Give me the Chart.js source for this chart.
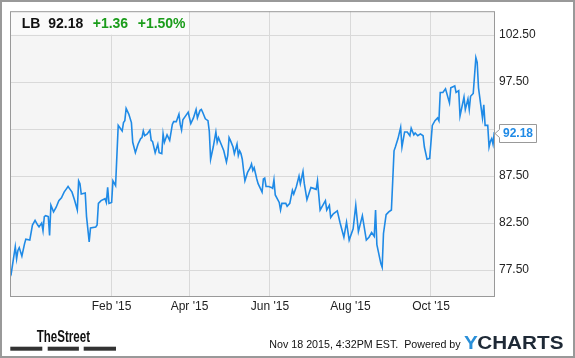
<!DOCTYPE html>
<html>
<head>
<meta charset="utf-8">
<script src="https://cdn.jsdelivr.net/npm/chart.js@4.4.0/dist/chart.umd.min.js"></script>
<style>
  html, body { margin: 0; padding: 0; background: #fff; }
  #wrap { width: 575px; height: 358px; }
</style>
</head>
<body>
<div id="wrap"><canvas id="canvas" width="575" height="358"></canvas></div>
<script>
// day index counted from Jan 1 2015 (negative = late 2014)
const days = [
  -46, -45, -42, -41, -40, -39, -37, -35, -34, -31,
  -29, -27, -25, -24, -22, -21, -20, -19, -17, -16,
  -15, -13, -11, -9, -7, -5, -3, -2, -1, 1,
  3, 5, 6, 7, 8, 11, 12, 14, 15, 19,
  20, 21, 23, 26, 27, 28, 29, 31, 32, 34,
  36, 37, 39, 40, 41, 42, 44, 46, 47, 49,
  51, 53, 54, 55, 56, 58, 60, 61, 62, 64,
  66, 67, 69, 70, 71, 73, 75, 77, 78, 80,
  82, 83, 84, 85, 88, 89, 91, 93, 95, 96,
  98, 99, 100, 102, 104, 105, 106, 108, 110, 111,
  112, 114, 116, 118, 119, 120, 121, 123, 124, 126,
  127, 128, 129, 130, 131, 132, 134, 136, 137, 138,
  139, 141, 142, 145, 146, 147, 148, 150, 152, 153,
  154, 155, 158, 159, 160, 163, 164, 166, 168, 169,
  171, 173, 174, 176, 177, 179, 182, 184, 186, 187,
  189, 191, 193, 194, 196, 197, 199, 202, 204, 207,
  209, 211, 214, 216, 218, 221, 224, 226, 228, 230,
  231, 232, 235, 236, 237, 239, 241, 243, 244, 245,
  246, 248, 250, 251, 253, 255, 257, 258, 260, 261,
  263, 265, 267, 268, 270, 272, 274, 276, 278, 279,
  280, 282, 284, 287, 288, 291, 292, 294, 295, 298,
  299, 301, 302, 303, 305, 307, 308, 309, 312, 313,
  314, 316, 317, 318, 319, 320, 321
];

const prices = [
  77.7, 77.2, 80.0, 78.7, 79.6, 79.9, 79.0, 80.3, 80.8, 80.7,
  82.3, 82.8, 82.3, 82.1, 82.5, 81.7, 83.2, 83.3, 83.2, 81.2,
  84.4, 83.7, 84.2, 84.9, 85.2, 85.8, 86.2, 86.4, 86.2, 85.8,
  84.9, 83.9, 87.0, 86.7, 85.6, 85.7, 83.2, 80.5, 82.0, 82.1,
  82.3, 84.6, 84.9, 85.1, 84.7, 86.3, 84.6, 84.7, 87.0, 86.5,
  92.9, 92.7, 92.3, 93.2, 93.4, 94.7, 94.1, 93.2, 91.1, 90.0,
  90.9, 91.5, 91.6, 92.3, 91.8, 92.0, 92.4, 91.3, 91.2, 90.0,
  90.9, 90.0, 89.9, 92.0, 91.1, 91.9, 91.3, 93.0, 93.3, 93.3,
  94.1, 93.0, 92.4, 93.5, 94.1, 94.3, 93.1, 93.7, 94.6, 93.7,
  94.5, 94.6, 94.3, 93.6, 93.4, 92.3, 89.3, 90.6, 92.2, 91.1,
  91.6, 90.9, 90.2, 89.0, 89.7, 91.6, 91.3, 90.6, 89.9, 90.9,
  89.7, 90.2, 89.9, 89.3, 88.1, 87.0, 87.9, 88.4, 88.8, 88.1,
  88.4, 87.2, 86.7, 85.8, 87.2, 87.3, 86.4, 86.4, 86.3, 86.2,
  87.1, 85.5, 84.7, 83.9, 84.6, 84.6, 84.3, 84.6, 86.0, 85.6,
  86.4, 87.5, 86.7, 88.0, 86.7, 85.0, 86.3, 86.2, 86.1, 87.0,
  83.9, 84.4, 84.9, 83.9, 84.4, 83.1, 83.5, 83.8, 82.6, 81.0,
  82.6, 80.7, 81.9, 84.4, 81.6, 83.3, 80.7, 81.0, 81.5, 81.1,
  83.9, 80.2, 78.2, 77.8, 81.4, 83.4, 83.7, 83.9, 87.0, 90.2,
  90.6, 91.5, 92.7, 90.6, 92.2, 92.2, 91.8, 92.6, 91.9, 92.1,
  91.8, 92.0, 91.8, 90.6, 89.3, 89.4, 92.9, 93.4, 93.7, 93.4,
  96.4, 96.4, 96.8, 95.3, 96.9, 97.1, 96.4, 96.6, 93.9, 95.9,
  94.6, 95.7, 94.6, 96.0, 96.3, 100.1, 99.6, 96.9, 93.7, 95.1,
  92.9, 92.9, 90.6, 91.2, 91.5, 90.9, 92.18
];

const monthTickDays = [31, 90, 151, 212, 273];
const monthTickLabels = ["Feb '15", "Apr '15", "Jun '15", "Aug '15", "Oct '15"];
const priceTicks = [77.5, 82.5, 87.5, 92.5, 97.5, 102.5];

const ticker = "LB";
const lastPrice = 92.18;
const change = "+1.36";
const changePct = "+1.50%";
const stamp = "Nov 18 2015, 4:32PM EST.  Powered by";

const FONT = "'Liberation Sans', Arial, sans-serif";
const BLUE = "#1f8ae6";
const GREEN = "#1a9c1a";

const decor = {
  id: "decor",
  beforeDraw(chart) {
    const { ctx, chartArea: a } = chart;
    ctx.save();
    ctx.fillStyle = "#fff";
    ctx.fillRect(0, 0, chart.width, chart.height);
    ctx.fillStyle = "#f5f5f5";
    ctx.fillRect(a.left, a.top, a.right - a.left, a.bottom - a.top);
    ctx.restore();
  },
  beforeDatasetsDraw(chart) {
    const { ctx, chartArea: a } = chart;
    ctx.save();
    // header box
    ctx.fillStyle = "#fafafa";
    ctx.fillRect(a.left, a.top, 179, 23.5);
    ctx.font = "bold 14px " + FONT;
    ctx.textBaseline = "alphabetic";
    ctx.fillStyle = "#111";
    ctx.fillText(ticker, 21.7, 28);
    ctx.fillText(lastPrice.toFixed(2), 48.3, 28);
    ctx.fillStyle = GREEN;
    ctx.fillText(change, 92.7, 28);
    ctx.fillText(changePct, 137.7, 28);
    ctx.restore();
  },
  afterDraw(chart) {
    const { ctx, chartArea: a } = chart;
    const yScale = chart.scales.y;
    ctx.save();
    // plot frame
    ctx.strokeStyle = "#999";
    ctx.lineWidth = 1;
    ctx.strokeRect(a.left + 0.5, a.top + 0.5, a.right - a.left - 1, a.bottom - a.top);

    // last price callout
    const y = Math.round(yScale.getPixelForValue(lastPrice)) + 1.5;
    const bx = a.right + 4.5, bw = 37, bh = 18;
    ctx.beginPath();
    ctx.moveTo(bx, y - bh / 2);
    ctx.lineTo(bx + bw, y - bh / 2);
    ctx.lineTo(bx + bw, y + bh / 2);
    ctx.lineTo(bx, y + bh / 2);
    ctx.lineTo(bx, y + 4);
    ctx.lineTo(a.right, y);
    ctx.lineTo(bx, y - 4);
    ctx.closePath();
    ctx.fillStyle = "#fff";
    ctx.fill();
    ctx.strokeStyle = "#999";
    ctx.stroke();
    ctx.fillStyle = BLUE;
    ctx.font = "bold 12px " + FONT;
    ctx.textAlign = "center";
    ctx.textBaseline = "middle";
    ctx.fillText(lastPrice.toFixed(2), bx + bw / 2, y + 0.5);

    // footer: TheStreet logo
    ctx.textAlign = "left";
    ctx.textBaseline = "alphabetic";
    ctx.fillStyle = "#111";
    ctx.font = "bold 16px 'Liberation Sans Narrow', " + FONT;
    let w = ctx.measureText("TheStreet").width;
    ctx.save();
    ctx.translate(36.7, 341.7);
    ctx.scale(53.3 / w, 1);
    ctx.fillText("TheStreet", 0, 0);
    ctx.restore();
    ctx.fillStyle = "#333";
    ctx.fillRect(10.3, 346.7, 32, 4);
    ctx.fillRect(47.7, 346.7, 31.2, 4);
    ctx.fillRect(83.7, 346.7, 32.3, 4);

    // footer: timestamp + YCHARTS
    ctx.fillStyle = "#111";
    ctx.font = "10.7px " + FONT;
    ctx.textAlign = "right";
    ctx.textBaseline = "middle";
    ctx.fillText(stamp, 460.6, 345);

    ctx.textAlign = "left";
    ctx.textBaseline = "alphabetic";
    ctx.font = "bold 18px " + FONT;
    const yW = ctx.measureText("Y").width;
    const restW = ctx.measureText("CHARTS").width;
    const sx = 100 / (yW + restW);
    ctx.save();
    ctx.translate(464, 348.5);
    ctx.scale(sx, 1);
    ctx.fillStyle = "#2a8fd8";
    ctx.fillText("Y", 0, 0);
    ctx.fillStyle = "#1e2936";
    ctx.fillText("CHARTS", yW - 0.5, 0);
    ctx.restore();

    // outer border
    ctx.strokeStyle = "#999";
    ctx.lineWidth = 2;
    ctx.strokeRect(1, 1, chart.width - 2, chart.height - 2);
    ctx.restore();
  }
};

window.onload = function () {
  const ctx = document.getElementById("canvas").getContext("2d");
  new Chart(ctx, {
    type: "line",
    data: {
      datasets: [{
        data: days.map((d, i) => ({ x: d, y: prices[i] })),
        borderColor: BLUE,
        borderWidth: 1.6,
        pointRadius: 0,
        tension: 0,
        fill: false
      }]
    },
    options: {
      responsive: false,
      animation: false,
      layout: { padding: { left: 10, top: 10, right: 0, bottom: 0 } },
      plugins: { legend: { display: false }, tooltip: { enabled: false } },
      scales: {
        x: {
          type: "linear",
          min: -46,
          max: 321.5,
          afterBuildTicks: (s) => { s.ticks = monthTickDays.map(v => ({ value: v })); },
          afterFit: (s) => { s.height = 62; },
          grid: { color: "#d9d9d9", drawTicks: false },
          border: { display: false },
          ticks: {
            autoSkip: false,
            maxRotation: 0,
            padding: 3,
            color: "#222",
            font: { family: FONT, size: 12 },
            callback: (v, i) => monthTickLabels[i]
          }
        },
        y: {
          position: "right",
          min: 74.75,
          max: 105.05,
          afterBuildTicks: (s) => { s.ticks = priceTicks.map(v => ({ value: v })); },
          afterFit: (s) => { s.width = 80; },
          grid: { color: "#d9d9d9", drawTicks: false },
          border: { display: false },
          ticks: {
            padding: 4,
            color: "#222",
            font: { family: FONT, size: 12 },
            callback: (v) => Math.abs(v - lastPrice) < 2 ? "" : v.toFixed(2)
          }
        }
      }
    },
    plugins: [decor]
  });
};
</script>
</body>
</html>
